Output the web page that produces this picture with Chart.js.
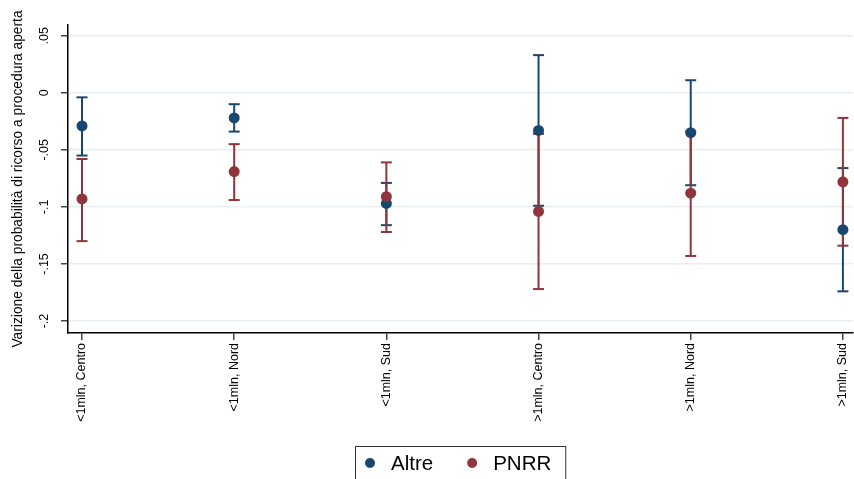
<!DOCTYPE html>
<html>
<head>
<meta charset="utf-8">
<script src="https://cdn.jsdelivr.net/npm/chart.js@4.4.1/dist/chart.umd.min.js"></script>
<style>
  html, body { margin: 0; padding: 0; background: #fff; overflow: hidden; }
  #wrap { width: 854px; height: 479px; overflow: hidden; }
  #c { display: block; }
</style>
</head>
<body>
<div id="wrap"><canvas id="c" width="861" height="479"></canvas></div>
<script>
// categorie (asse x)
const categories = ['<1mln, Centro', '<1mln, Nord', '<1mln, Sud', '>1mln, Centro', '>1mln, Nord', '>1mln, Sud'];

// stime e intervalli di confidenza, gruppo "Altre"
const altreEst = [-0.029, -0.022, -0.097, -0.033, -0.035, -0.120];
const altreLo  = [-0.055, -0.034, -0.116, -0.099, -0.081, -0.174];
const altreHi  = [-0.004, -0.010, -0.079,  0.033,  0.011, -0.066];

// stime e intervalli di confidenza, gruppo "PNRR"
const pnrrEst = [-0.093, -0.069, -0.091, -0.104, -0.088, -0.078];
const pnrrLo  = [-0.130, -0.094, -0.122, -0.172, -0.143, -0.134];
const pnrrHi  = [-0.058, -0.045, -0.061, -0.036, -0.034, -0.022];

// tick asse y
const yTicks = [0.05, 0, -0.05, -0.1, -0.15, -0.2];
const yTickLabels = ['.05', '0', '-.05', '-.1', '-.15', '-.2'];
const yTitle = 'Varizione della probabilità di ricorso a procedura aperta';

const NAVY = '#1a476f';
const MAROON = '#90353b';
const sans = "'Liberation Sans', Arial, sans-serif";

// segmenti verticali (null spezza la linea tra una categoria e l'altra)
function whiskers(lo, hi) {
    const out = [];
    lo.forEach((v, i) => out.push({ x: i, y: v }, { x: i, y: hi[i] }, { x: i + 0.5, y: null }));
    return out;
}
const caps = (lo, hi) => lo.flatMap((v, i) => [{ x: i, y: v }, { x: i, y: hi[i] }]);
const points = (est) => est.map((v, i) => ({ x: i, y: v }));

function whiskerSet(lo, hi, color, order) {
    return { type: 'line', data: whiskers(lo, hi), borderColor: color, borderWidth: 2,
             pointRadius: 0, spanGaps: false, fill: false, order };
}
function capSet(lo, hi, color, order) {
    return { type: 'scatter', data: caps(lo, hi), pointStyle: 'line', pointRadius: 5.5,
             borderColor: color, borderWidth: 2, order };
}
function pointSet(label, est, color, order) {
    return { type: 'scatter', label, data: points(est), pointStyle: 'circle', pointRadius: 5.5,
             backgroundColor: color, borderColor: color, borderWidth: 0, order, inLegend: true };
}

// legenda disegnata a mano, con il riquadro come nell'originale
const legendBox = {
    id: 'legendBox',
    afterDraw(chart) {
        const ctx = chart.ctx;
        const { left, right } = chart.chartArea;
        const items = chart.data.datasets.filter((d) => d.inLegend);
        ctx.save();
        ctx.font = '20.5px ' + sans;
        const widths = items.map((d) => ctx.measureText(d.label).width);
        const total = 15 + widths.reduce((a, w) => a + 21 + w, 0) + 39 * (items.length - 1) + 14;
        const bx = Math.round((left + right) / 2 - total / 2);
        const by = 446;
        ctx.strokeStyle = '#333';
        ctx.lineWidth = 1;
        ctx.strokeRect(bx + 0.5, by + 0.5, total, 60);
        let x = bx + 15;
        items.forEach((d, i) => {
            ctx.fillStyle = d.backgroundColor;
            ctx.beginPath();
            ctx.arc(x, 463, 5, 0, Math.PI * 2);
            ctx.fill();
            ctx.fillStyle = '#000';
            ctx.textBaseline = 'middle';
            ctx.fillText(d.label, x + 21, 464);
            x += 21 + widths[i] + 39;
        });
        ctx.restore();
    }
};

new Chart(document.getElementById('c'), {
    type: 'scatter',
    data: {
        datasets: [
            whiskerSet(altreLo, altreHi, NAVY, 6),
            capSet(altreLo, altreHi, NAVY, 5),
            whiskerSet(pnrrLo, pnrrHi, MAROON, 4),
            capSet(pnrrLo, pnrrHi, MAROON, 3),
            pointSet('Altre', altreEst, NAVY, 2),
            pointSet('PNRR', pnrrEst, MAROON, 1),
        ],
    },
    options: {
        responsive: false,
        animation: false,
        devicePixelRatio: 1,
        layout: { padding: { top: 25, right: 0, bottom: 0, left: 0 } },
        plugins: { legend: { display: false }, tooltip: { enabled: false } },
        scales: {
            x: {
                type: 'linear',
                min: -0.092,
                max: 5.066,
                afterBuildTicks: (s) => { s.ticks = categories.map((_, i) => ({ value: i })); },
                afterFit: (s) => { s.height = 146; },
                border: { color: '#000', width: 1.5 },
                grid: { drawOnChartArea: false, drawTicks: true, tickLength: 7, tickColor: '#444', lineWidth: 1.5 },
                ticks: {
                    minRotation: 90, maxRotation: 90, autoSkip: false, padding: 3, color: '#000',
                    font: { family: sans, size: 12.5 },
                    callback: (v) => categories[v],
                },
            },
            y: {
                type: 'linear',
                min: -0.2105,
                max: 0.0594,
                afterBuildTicks: (s) => { s.ticks = yTicks.map((v) => ({ value: v })); },
                afterFit: (s) => { s.width = 68; },
                border: { color: '#000', width: 1.5 },
                grid: { color: '#e8eff1', lineWidth: 1.5, tickColor: '#444', tickLength: 7 },
                ticks: {
                    minRotation: 90, maxRotation: 90, crossAlign: 'center', padding: 6, color: '#000',
                    font: { family: sans, size: 12.5 },
                    callback: (v, i) => yTickLabels[i],
                },
                title: {
                    display: true, text: yTitle, color: '#000',
                    font: { family: sans, size: 13.8 },
                    padding: { top: 10, bottom: 0 },
                },
            },
        },
    },
    plugins: [legendBox],
});
</script>
</body>
</html>
